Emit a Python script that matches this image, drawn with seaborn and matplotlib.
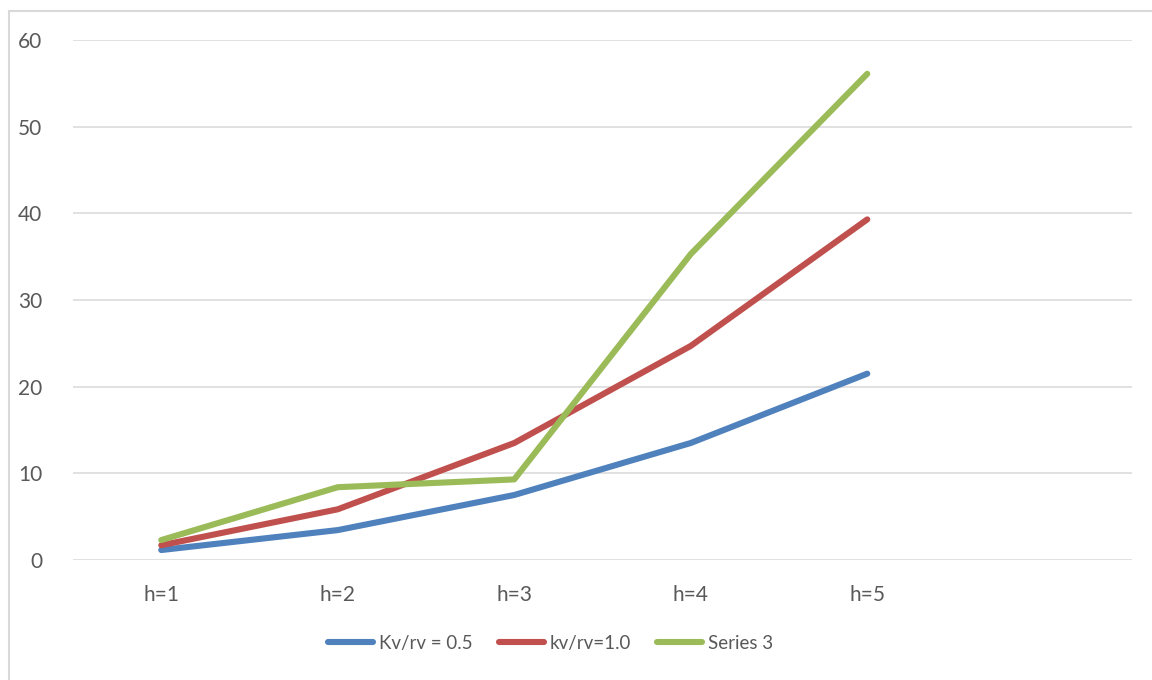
import matplotlib
matplotlib.use("Agg")
import matplotlib.pyplot as plt
import seaborn as sns
import pandas as pd
from matplotlib.patches import Rectangle

categories = ["h=1", "h=2", "h=3", "h=4", "h=5"]
series_names = ["Kv/rv = 0.5", "kv/rv=1.0", "Series 3"]
kv_05 = [1.15, 3.45, 7.5, 13.5, 21.5]
kv_10 = [1.7, 5.85, 13.5, 24.7, 39.3]
series3 = [2.3, 8.4, 9.3, 35.3, 56.1]
colors = ["#4f81bd", "#c0504d", "#9bbb59"]
y_ticks = [0, 10, 20, 30, 40, 50, 60]

frames = []
for name, vals in zip(series_names, [kv_05, kv_10, series3]):
    frames.append(pd.DataFrame({"h": categories, "value": vals, "series": name}))
df = pd.concat(frames, ignore_index=True)

sns.set_theme(style="white")
plt.rcParams["font.family"] = ["Lato", "DejaVu Sans"]

fig = plt.figure(figsize=(11.52, 6.8), dpi=100)
ax = fig.add_axes([73 / 1152, 1 - 560 / 680, (1132 - 73) / 1152, (560 - 40) / 680])

sns.lineplot(data=df, x="h", y="value", hue="series", hue_order=series_names,
             palette=colors, linewidth=4.4, ax=ax, sort=False,
             solid_capstyle="round", legend=False)

ax.set_xlim(-0.5, 5.5)
ax.set_ylim(0, 60)
ax.set_yticks(y_ticks)
ax.set_xticks(range(len(categories)))
ax.set_xticklabels(categories)
ax.grid(axis="y", color="#d9d9d9", linewidth=1.1)
ax.set_axisbelow(True)
for s in ax.spines.values():
    s.set_visible(False)
ax.set_xlabel("")
ax.set_ylabel("")
ax.tick_params(axis="both", length=0, labelsize=15, labelcolor="#595959")
ax.tick_params(axis="y", pad=22)
ax.tick_params(axis="x", pad=18)

# legend below the plot area
handles = [plt.Line2D([], [], color=c, linewidth=4.4, solid_capstyle="round") for c in colors]
fig.legend(handles, series_names, loc="center", bbox_to_anchor=(0.478, 0.054),
           ncol=3, frameon=False, fontsize=13.5, labelcolor="#595959",
           handlelength=2.4, handletextpad=0.3, columnspacing=1.4)

# chart area border
fig.patches.append(Rectangle((9 / 1152, -0.1), 1.2, 1 - 11 / 680 + 0.1,
                             transform=fig.transFigure, fill=False,
                             edgecolor="#d9d9d9", linewidth=1.5))

fig.savefig("out.png", dpi=100)
